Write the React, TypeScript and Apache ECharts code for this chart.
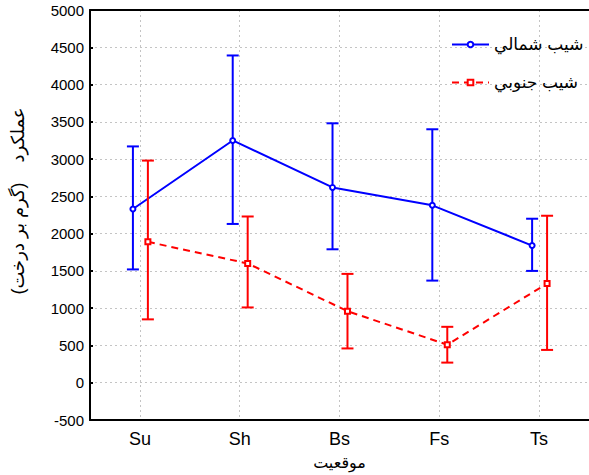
import React, { useEffect, useRef } from "react";
import * as echarts from "echarts";

const categories = ["Su", "Sh", "Bs", "Fs", "Ts"];
const northName = "شيب شمالي";
const southName = "شيب جنوبي";
const northMean = [2330, 3250, 2620, 2380, 1840];
const northUpper = [3170, 4390, 3480, 3400, 2200];
const northLower = [1520, 2130, 1790, 1370, 1500];
const southMean = [1890, 1600, 960, 510, 1330];
const southUpper = [2980, 2230, 1460, 750, 2240];
const southLower = [850, 1010, 460, 270, 440];
const yTitle = "عملکرد    (گرم بر درخت)";
const xTitle = "موقعيت";

const FONT = "'Liberation Sans', Arial, 'DejaVu Sans', sans-serif";
const BLUE = "#0000ff";
const RED = "#ff0000";
const GRIDC = "#c4c4c4";

export default function App() {
  const ref = useRef<HTMLDivElement>(null);
  useEffect(() => {
    document.body.style.margin = "0";
    const chart = echarts.init(ref.current!, undefined, { renderer: "svg" });
    const northOff = -0.07;
    const southOff = 0.08;
    const errData = (lo: number[], hi: number[], off: number) =>
      lo.map((l, i) => [i + off, l, hi[i]]);
    const lineData = (m: number[], off: number) => m.map((v, i) => [i + off, v]);
    const errRender = (color: string) => (params: any, api: any) => {
      const x = api.value(0);
      const lo = api.coord([x, api.value(1)]);
      const hi = api.coord([x, api.value(2)]);
      const h = 6;
      const st = { stroke: color, lineWidth: 2 };
      return {
        type: "group",
        children: [
          { type: "line", shape: { x1: lo[0], y1: lo[1], x2: hi[0], y2: hi[1] }, style: st },
          { type: "line", shape: { x1: lo[0] - h, y1: lo[1], x2: lo[0] + h, y2: lo[1] }, style: st },
          { type: "line", shape: { x1: hi[0] - h, y1: hi[1], x2: hi[0] + h, y2: hi[1] }, style: st },
        ],
      };
    };
    chart.setOption({
      animation: false,
      textStyle: { fontFamily: FONT },
      grid: { left: 90, top: 10, right: -1, bottom: 54 },
      legend: {
        data: [northName, southName],
        orient: "vertical",
        left: 446,
        top: 31,
        itemWidth: 37,
        itemHeight: 7,
        itemGap: 21,
        textStyle: { fontSize: 17, color: "#000", fontFamily: FONT },
      },
      xAxis: [
        {
          type: "category",
          data: categories,
          boundaryGap: true,
          axisLine: { onZero: false, lineStyle: { color: "#000", width: 2 } },
          axisTick: { inside: true, alignWithLabel: true, length: 3, lineStyle: { color: "#000", width: 2 } },
          axisLabel: { fontSize: 18, color: "#000", margin: 10, fontFamily: FONT },
          splitLine: { show: true, alignWithLabel: true, lineStyle: { color: GRIDC, type: [2, 3], width: 1 } } as any,
          name: xTitle,
          nameLocation: "middle",
          nameGap: 34,
          nameTextStyle: { fontSize: 16, color: "#000", fontFamily: FONT },
        },
        {
          type: "value",
          min: -0.5,
          max: 4.5,
          show: false,
          axisLine: { onZero: false },
          splitLine: { show: false },
        },
        {
          type: "category",
          data: categories,
          position: "top",
          boundaryGap: true,
          axisLine: { onZero: false, lineStyle: { color: "#000", width: 2 } },
          axisTick: { inside: true, alignWithLabel: true, length: 3, lineStyle: { color: "#000", width: 2 } },
          axisLabel: { show: false },
          splitLine: { show: false },
        },
      ],
      yAxis: {
        type: "value",
        min: -500,
        max: 5000,
        interval: 500,
        axisLine: { show: true, onZero: false, lineStyle: { color: "#000", width: 2 } },
        axisTick: { show: true, inside: true, length: 3, lineStyle: { color: "#000", width: 2 } },
        axisLabel: {
          fontSize: 15,
          color: "#000",
          margin: 6,
          fontFamily: FONT,
          formatter: (v: number) => String(v),
        },
        splitLine: { show: true, lineStyle: { color: GRIDC, type: [2, 3], width: 1 } },
      },
      graphic: [
        {
          type: "text",
          x: 18,
          y: 201,
          rotation: Math.PI / 2,
          style: {
            text: yTitle,
            fontSize: 18,
            fontFamily: FONT,
            fill: "#000",
            align: "center",
            verticalAlign: "middle",
          },
        },
      ],
      series: [
        {
          name: northName + " err",
          type: "custom",
          xAxisIndex: 1,
          data: errData(northLower, northUpper, northOff),
          encode: { x: 0, y: [1, 2] },
          renderItem: errRender(BLUE),
          z: 2,
        },
        {
          name: northName,
          type: "line",
          xAxisIndex: 1,
          data: lineData(northMean, northOff),
          symbol: "emptyCircle",
          symbolSize: 5,
          color: BLUE,
          lineStyle: { color: BLUE, width: 2 },
          itemStyle: { color: BLUE, borderColor: BLUE, borderWidth: 2 },
          z: 3,
        },
        {
          name: southName + " err",
          type: "custom",
          xAxisIndex: 1,
          data: errData(southLower, southUpper, southOff),
          encode: { x: 0, y: [1, 2] },
          renderItem: errRender(RED),
          z: 4,
        },
        {
          name: southName,
          type: "line",
          xAxisIndex: 1,
          data: lineData(southMean, southOff),
          symbol: "emptyRect",
          symbolSize: 5,
          color: RED,
          lineStyle: { color: RED, width: 2, type: [7, 5] },
          itemStyle: { color: RED, borderColor: RED, borderWidth: 2 },
          z: 5,
        },
      ],
    });
    return () => chart.dispose();
  }, []);
  return <div ref={ref} style={{ width: 589, height: 475 }} />;
}
